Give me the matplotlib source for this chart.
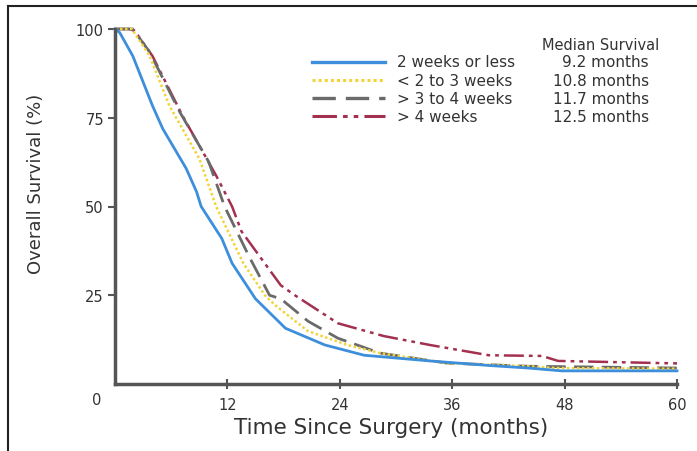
import matplotlib
matplotlib.use("Agg")
import matplotlib.pyplot as plt
from matplotlib.lines import Line2D

# survival curves (months, % alive)
months_a = [0, 0.5, 1.9, 4.0, 5.1, 7.6, 8.7, 9.2, 11.4, 12.5, 15.0, 18.2, 22.4, 26.6, 33.6, 40.0, 44.1, 47.7, 60]
surv_a = [100, 99, 92.4, 78.4, 71.9, 60.7, 54.2, 50, 41, 34, 24, 15.7, 11, 8.1, 6.5, 5.2, 4.5, 3.7, 3.7]

months_b = [0, 1.8, 3.7, 5.8, 9.0, 10.8, 13.7, 16.0, 17.1, 20.6, 24.8, 28.3, 35.4, 44.1, 47.0, 60]
surv_b = [100, 100, 92.4, 78.4, 63.5, 50, 34, 25, 22.2, 14.9, 11, 8.7, 5.9, 5.0, 4.5, 4.3]

months_c = [0, 1.9, 3.7, 6.9, 10.0, 11.7, 14.3, 16.5, 17.7, 20.6, 23.8, 28.3, 35.4, 44.1, 60]
surv_c = [100, 100, 93.5, 76.7, 62.6, 50, 36, 25, 24, 17.7, 12.9, 8.7, 5.9, 5.0, 4.5]

months_d = [0, 1.5, 2.1, 4.0, 7.2, 10.8, 12.5, 13.5, 17.7, 19.2, 23.8, 28.7, 33.6, 39.9, 45.6, 47.3, 60]
surv_d = [100, 100, 99.5, 92.4, 75.6, 58.7, 50, 43, 27.8, 25, 17.1, 13.5, 11, 8.1, 7.9, 6.5, 5.8]

labels = ["2 weeks or less", "< 2 to 3 weeks", "> 3 to 4 weeks", "> 4 weeks"]
medians = ["9.2 months", "10.8 months", "11.7 months", "12.5 months"]
xticks = [12, 24, 36, 48, 60]
yticks = [25, 50, 75, 100]

colors = ["#3d8fdc", "#f2d43a", "#6a6a6a", "#a3304f"]
styles = ["-", (0, (1, 1)), (0, (7, 3)), (0, (8, 2, 1.5, 2, 1.5, 2))]
widths = [2.0, 1.8, 2.0, 1.8]

W, H = 697, 452
plt.rcParams["font.family"] = ["DejaVu Sans"]
fig = plt.figure(figsize=(W / 100, H / 100), dpi=100)

def fx(px):
    return px / W

def fy(py):
    return 1 - py / H

ax = fig.add_axes([fx(115), fy(385), fx(677) - fx(115), fy(30) - fy(385)])

series = [(months_a, surv_a), (months_b, surv_b), (months_c, surv_c), (months_d, surv_d)]
# draw the long-lived groups first so blue sits on top like the original
for i in [3, 2, 1, 0]:
    m, s = series[i]
    ax.plot(m, s, color=colors[i], linestyle=styles[i], linewidth=widths[i], clip_on=False)

ax.set_xlim(0, 60)
ax.set_ylim(0, 100)
ax.set_xticks(xticks)
ax.set_yticks(yticks)
ax.tick_params(axis="y", direction="out", length=5, width=1.5, color="#555555",
               labelsize=10.5, pad=3)
ax.tick_params(axis="x", direction="inout", length=7, width=1.5, color="#555555",
               labelsize=10.5, pad=6)
for sp in ["top", "right"]:
    ax.spines[sp].set_visible(False)
for sp in ["left", "bottom"]:
    ax.spines[sp].set_linewidth(2.5)
    ax.spines[sp].set_color("#555555")
for lab in ax.get_xticklabels() + ax.get_yticklabels():
    lab.set_color("#333333")

# shared origin label
fig.text(fx(97), fy(401), "0", ha="center", va="center", fontsize=10.5, color="#333333")

# axis titles
fig.text(fx(391), fy(428), "Time Since Surgery (months)", ha="center", va="center",
         fontsize=15.5, color="#333333")
fig.text(fx(36), fy(184), "Overall Survival (%)", ha="center", va="center",
         rotation=90, fontsize=13, color="#333333")

# hand-made legend with median survival column
fig.text(fx(601), fy(45), "Median Survival", ha="center", va="center",
         fontsize=10.5, color="#333333")
rows = [63, 81, 99, 117]
for i in range(4):
    fig.add_artist(Line2D([fx(312), fx(385)], [fy(rows[i]), fy(rows[i])],
                          color=colors[i], linestyle=styles[i], linewidth=widths[i] + 0.4))
    fig.text(fx(397), fy(rows[i]), labels[i], ha="left", va="center",
             fontsize=11, color="#333333")
    fig.text(fx(649), fy(rows[i]), medians[i], ha="right", va="center",
             fontsize=11, color="#333333")

# frame edge of the original figure
fig.add_artist(Line2D([fx(8), 1], [fy(7), fy(7)], color="#222222", linewidth=1.5))
fig.add_artist(Line2D([fx(8), fx(8)], [fy(7), 0], color="#222222", linewidth=1.5))

fig.savefig("out.png", dpi=100)
